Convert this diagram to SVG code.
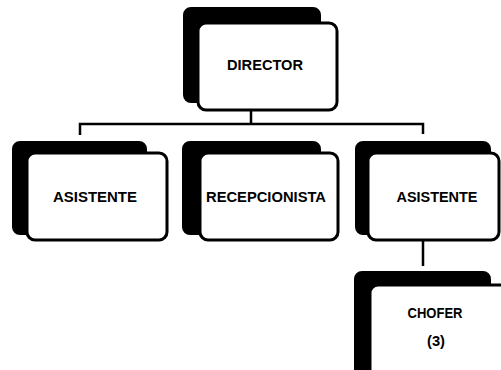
<svg xmlns="http://www.w3.org/2000/svg" width="501" height="370" viewBox="0 0 501 370">
<style>
.sh{fill:#000;stroke:#000;stroke-width:2}
.bx{fill:#fff;stroke:#000;stroke-width:3}
.t{font-family:"Liberation Sans",Arial,sans-serif;font-weight:bold;font-size:14px;fill:#000;text-anchor:middle}
.c{fill:none;stroke:#000;stroke-width:2.5}
</style>
<rect width="501" height="370" fill="#fff"/>
<g id="connectors">
<path class="c" d="M251 110 V124 M80 135 V124 H423 V134"/>
<path class="c" d="M423 240 V266"/>
</g>
<g id="director">
<rect class="sh" x="184" y="8" width="136" height="94" rx="7"/>
<rect class="bx" x="198" y="23" width="139" height="87" rx="8"/>
<text class="t" x="265" y="70" textLength="76" lengthAdjust="spacingAndGlyphs">DIRECTOR</text>
</g>
<g id="asistente1">
<rect class="sh" x="13" y="142" width="133" height="92" rx="7"/>
<rect class="bx" x="27" y="153" width="140" height="87" rx="8"/>
<text class="t" x="95" y="202" textLength="84" lengthAdjust="spacingAndGlyphs">ASISTENTE</text>
</g>
<g id="recepcionista">
<rect class="sh" x="183" y="142" width="137" height="92" rx="7"/>
<rect class="bx" x="200" y="153" width="138" height="87" rx="8"/>
<text class="t" x="266" y="202" textLength="120" lengthAdjust="spacingAndGlyphs">RECEPCIONISTA</text>
</g>
<g id="asistente2">
<rect class="sh" x="356" y="142" width="134" height="92" rx="7"/>
<rect class="bx" x="368" y="153" width="131" height="87" rx="8"/>
<text class="t" x="437" y="202" textLength="81" lengthAdjust="spacingAndGlyphs">ASISTENTE</text>
</g>
<g id="chofer">
<rect class="sh" x="355" y="272" width="135" height="110" rx="7"/>
<rect class="bx" x="370" y="285" width="140" height="100" rx="8"/>
<text class="t" x="435" y="318" textLength="55" lengthAdjust="spacingAndGlyphs">CHOFER</text>
<text class="t" x="436" y="346" textLength="18" lengthAdjust="spacingAndGlyphs">(3)</text>
</g>
</svg>
